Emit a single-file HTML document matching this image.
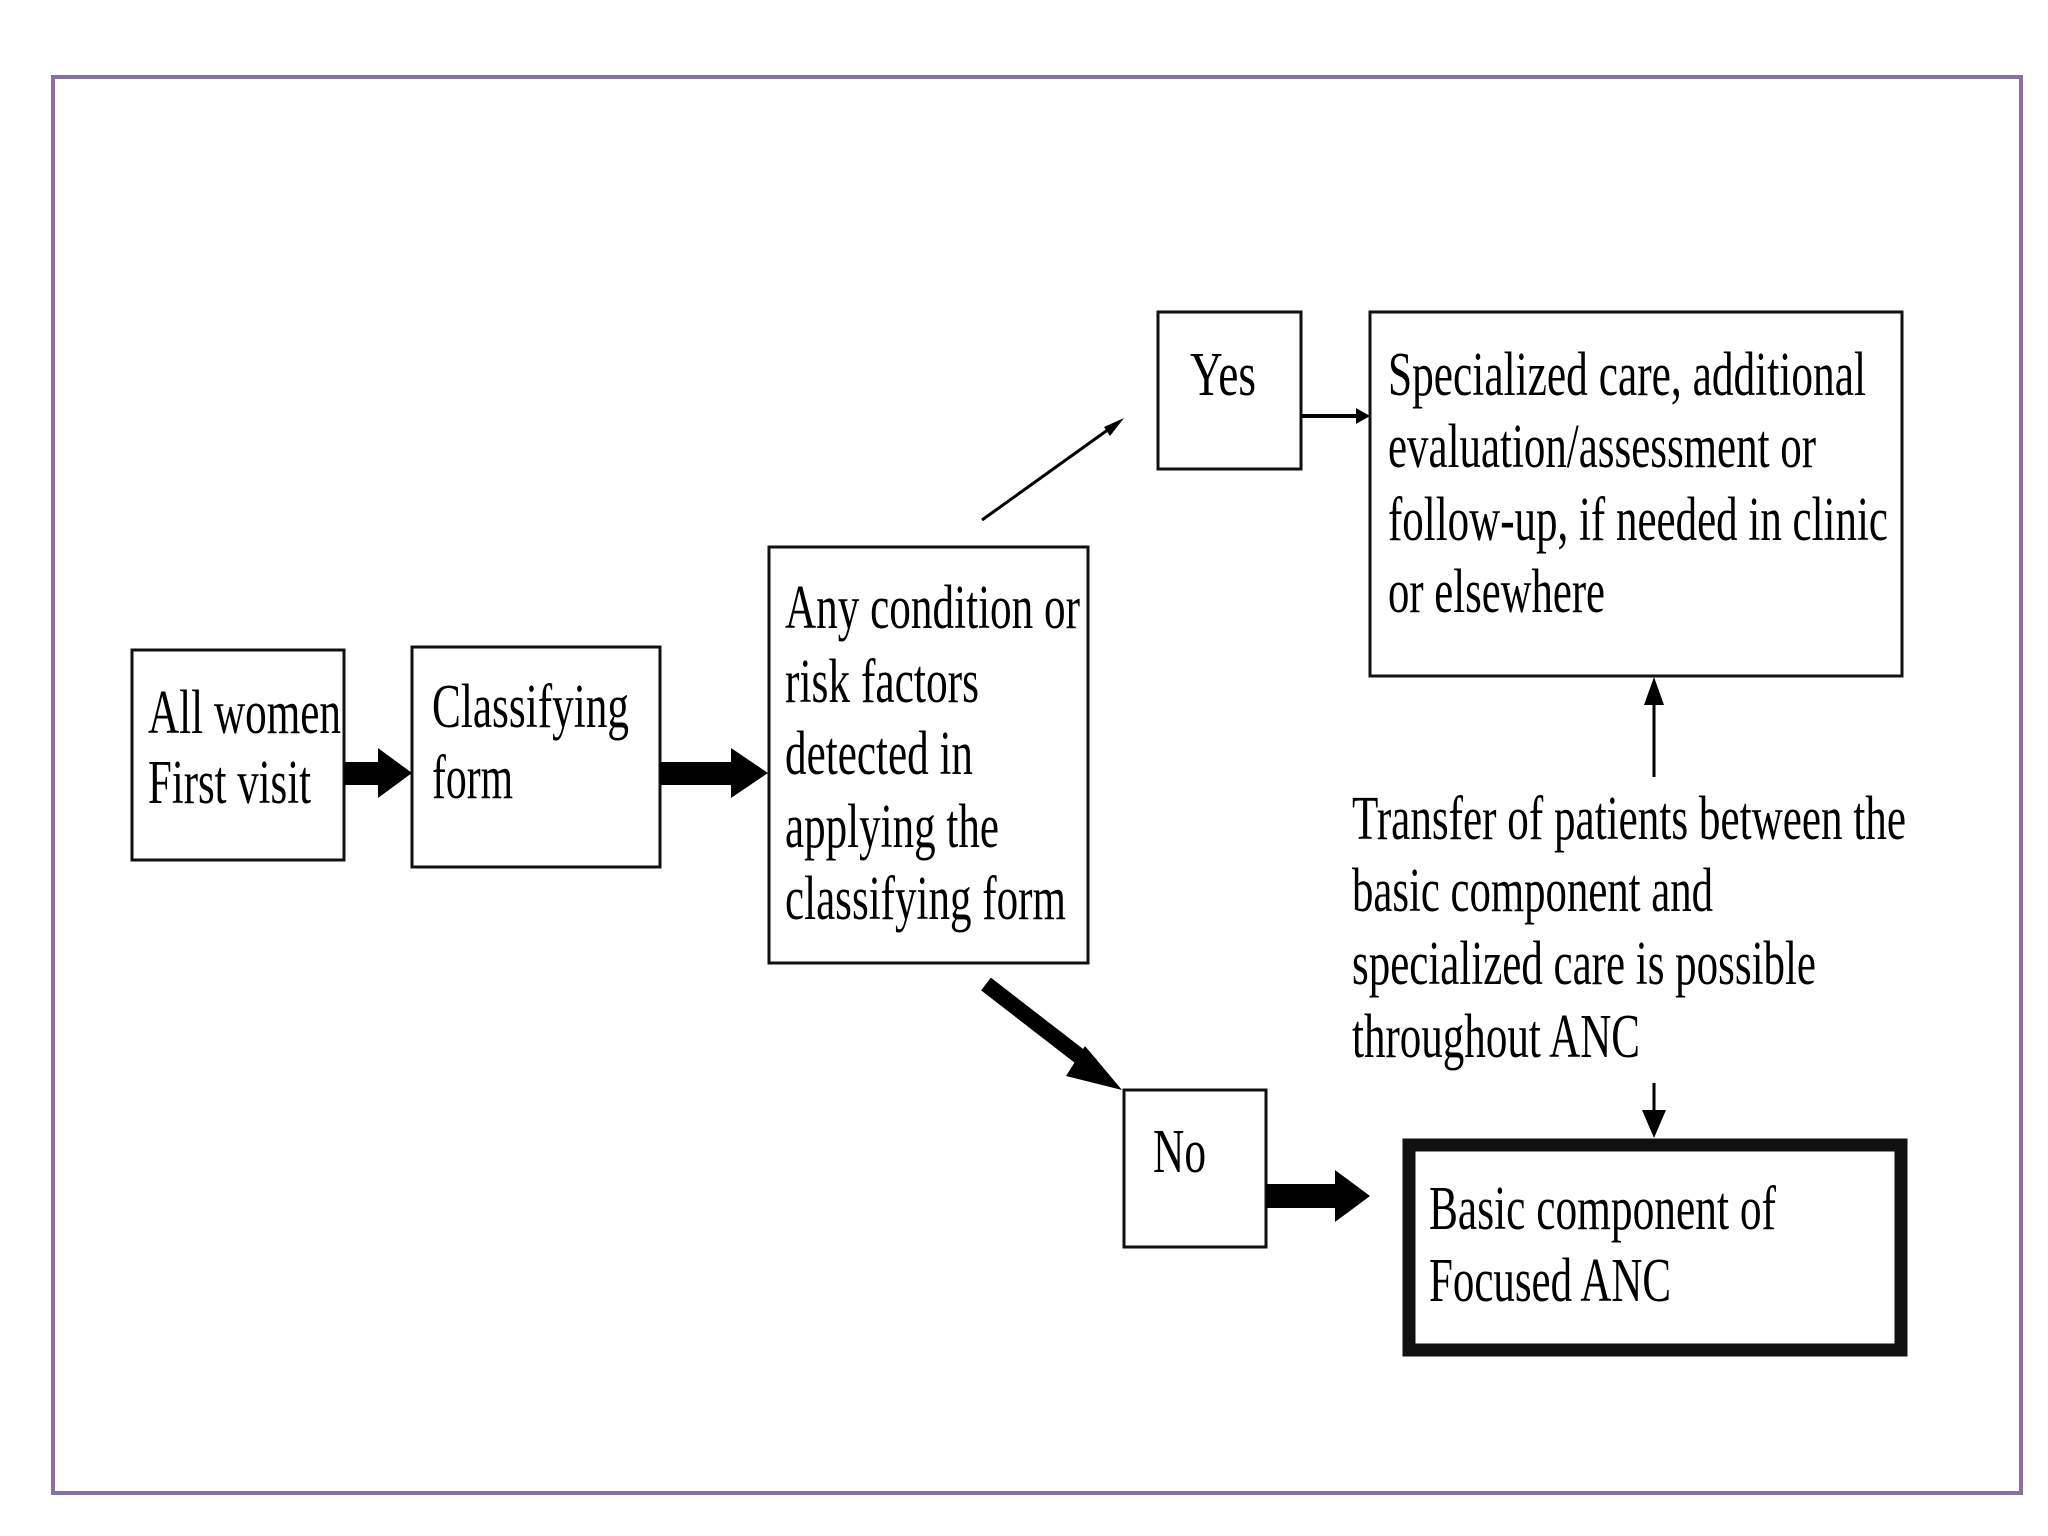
<!DOCTYPE html>
<html><head><meta charset="utf-8"><style>html,body{margin:0;padding:0;background:#fff}svg{display:block}</style></head>
<body>
<svg width="2048" height="1536" viewBox="0 0 2048 1536" xmlns="http://www.w3.org/2000/svg" font-family="'Liberation Serif', serif" font-size="62" fill="#000">
<rect x="53" y="77" width="1968" height="1416" fill="none" stroke="#8a6fa8" stroke-width="4"/>
<g fill="none" stroke="#111" stroke-width="3">
<rect x="132" y="650" width="212" height="210"/>
<rect x="412" y="647" width="248" height="220"/>
<rect x="769" y="547" width="319" height="416"/>
<rect x="1158" y="312" width="143" height="157"/>
<rect x="1370" y="312" width="532" height="364"/>
<rect x="1124" y="1090" width="142" height="157"/>
<rect x="1409" y="1145" width="492" height="205" stroke-width="13"/>
</g>
<!-- thick arrows -->
<polygon points="344,762 378,762 378,748 412,773 378,798 378,785 344,785"/>
<polygon points="660,762 731,762 731,748 768,773 731,798 731,785 660,785"/>
<polygon points="1266,1184 1335,1184 1335,1170 1370,1196 1335,1222 1335,1208 1266,1208"/>
<!-- thick diagonal -->
<line x1="986" y1="984" x2="1092" y2="1066" stroke="#000" stroke-width="16"/>
<polygon points="1085,1046 1122,1090 1066,1076"/>
<!-- thin diagonal -->
<line x1="982" y1="520" x2="1116" y2="424" stroke="#000" stroke-width="3"/>
<polygon points="1124,418 1110,436 1104,427"/>
<!-- yes -> specialized -->
<line x1="1301" y1="416" x2="1360" y2="416" stroke="#000" stroke-width="4"/>
<polygon points="1370,416 1356,408 1356,424"/>
<!-- vertical up -->
<line x1="1654" y1="777" x2="1654" y2="700" stroke="#000" stroke-width="3"/>
<polygon points="1654,677 1644,705 1664,705"/>
<!-- vertical down -->
<line x1="1654" y1="1083" x2="1654" y2="1115" stroke="#000" stroke-width="3"/>
<polygon points="1654,1138 1642,1110 1666,1110"/>
<g>
<text x="148" y="733" textLength="193" lengthAdjust="spacingAndGlyphs">All women</text>
<text x="148" y="803" textLength="163" lengthAdjust="spacingAndGlyphs">First visit</text>
<text x="432" y="727" textLength="197" lengthAdjust="spacingAndGlyphs">Classifying</text>
<text x="432" y="798" textLength="81" lengthAdjust="spacingAndGlyphs">form</text>
<text x="785" y="628" textLength="295" lengthAdjust="spacingAndGlyphs">Any condition or</text>
<text x="785" y="702" textLength="194" lengthAdjust="spacingAndGlyphs">risk factors</text>
<text x="785" y="774" textLength="188" lengthAdjust="spacingAndGlyphs">detected in</text>
<text x="785" y="847" textLength="214" lengthAdjust="spacingAndGlyphs">applying the</text>
<text x="785" y="919" textLength="281" lengthAdjust="spacingAndGlyphs">classifying form</text>
<text x="1190" y="395" textLength="66" lengthAdjust="spacingAndGlyphs">Yes</text>
<text x="1388" y="395" textLength="478" lengthAdjust="spacingAndGlyphs">Specialized care, additional</text>
<text x="1388" y="467" textLength="428" lengthAdjust="spacingAndGlyphs">evaluation/assessment or</text>
<text x="1388" y="540" textLength="500" lengthAdjust="spacingAndGlyphs">follow-up, if needed in clinic</text>
<text x="1388" y="612" textLength="217" lengthAdjust="spacingAndGlyphs">or elsewhere</text>
<text x="1352" y="839" textLength="554" lengthAdjust="spacingAndGlyphs">Transfer of patients between the</text>
<text x="1352" y="911" textLength="361" lengthAdjust="spacingAndGlyphs">basic component and</text>
<text x="1352" y="984" textLength="464" lengthAdjust="spacingAndGlyphs">specialized care is possible</text>
<text x="1352" y="1057" textLength="288" lengthAdjust="spacingAndGlyphs">throughout ANC</text>
<text x="1153" y="1172" textLength="53" lengthAdjust="spacingAndGlyphs">No</text>
<text x="1429" y="1229" textLength="347" lengthAdjust="spacingAndGlyphs">Basic component of</text>
<text x="1429" y="1301" textLength="242" lengthAdjust="spacingAndGlyphs">Focused ANC</text>
</g>
</svg>
</body></html>
